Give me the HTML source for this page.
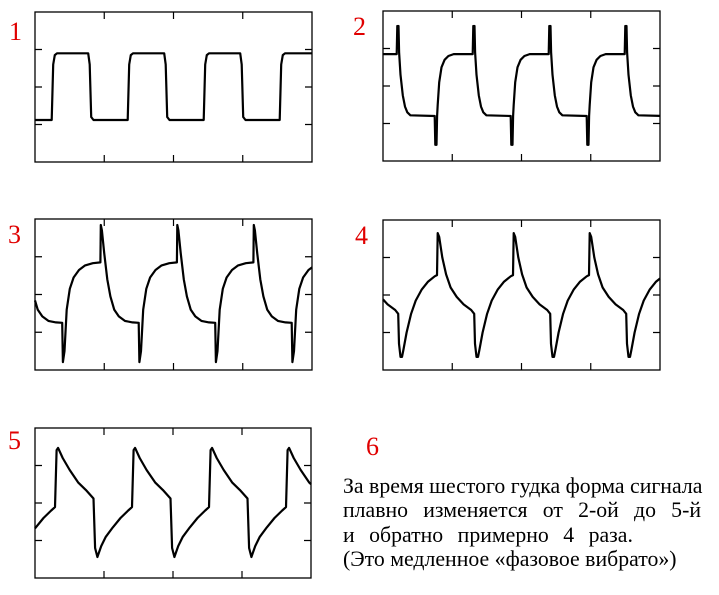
<!DOCTYPE html>
<html><head><meta charset="utf-8"><style>
html,body{margin:0;padding:0;background:#fff;width:719px;height:595px;overflow:hidden}
svg{display:block}
.lbl{font-family:"Liberation Serif",serif;font-size:26px;fill:#e00000}
.txt{position:absolute;left:343px;top:474px;width:358px;font-family:"Liberation Serif","Noto Serif CJK SC",serif;font-size:21.8px;line-height:24.3px;color:#000}
.txt div{text-align:justify;text-align-last:justify;white-space:nowrap}
.txt div.last{text-align-last:left}
</style></head><body>
<svg id="chart" width="719" height="595">
<text class="lbl" x="9" y="40">1</text>
<text class="lbl" x="353" y="35">2</text>
<text class="lbl" x="8" y="243">3</text>
<text class="lbl" x="355" y="244">4</text>
<text class="lbl" x="8" y="449">5</text>
<text class="lbl" x="366" y="455">6</text>
</svg>
<div class="txt">
<div>За время шестого гудка форма сигнала</div>
<div>плавно изменяется от 2-ой до 5-й</div>
<div class="last" style="word-spacing:9px">и обратно  примерно 4 раза.</div>
<div class="last">(Это медленное «фазовое вибрато»)</div>
</div>
<script>
// one-period waveform shapes: phase (0..1) and value (frame units 0..4)
const p1Phase=[0,0.02,0.04,0.07,0.48,0.50,0.52,0.55,1];
const p1Value=[1.12,2.6,2.85,2.9,2.9,2.6,1.2,1.12,1.12];
const p2Phase=[0,0.008,0.016,0.024,0.032,0.05,0.08,0.11,0.14,0.18,0.5,0.508,0.516,0.524,0.532,0.54,0.56,0.59,0.63,0.68,0.75,1];
const p2Value=[2.85,3.6,3.1,3.6,2.9,2.3,1.75,1.45,1.3,1.22,1.2,0.43,1.0,0.43,1.2,1.5,2.1,2.5,2.7,2.8,2.85,2.85];
const p3Phase=[0,0.005,0.02,0.05,0.09,0.13,0.18,0.24,0.32,0.42,0.5,0.51,0.53,0.56,0.6,0.65,0.72,0.8,0.9,1];
const p3Value=[2.85,3.84,3.7,3.1,2.4,1.95,1.6,1.42,1.3,1.26,1.25,0.21,0.5,1.6,2.15,2.45,2.65,2.77,2.83,2.85];
const p4Phase=[0,0.01,0.03,0.07,0.12,0.18,0.26,0.35,0.45,0.49,0.5,0.52,0.54,0.56,0.6,0.66,0.72,0.8,0.88,0.97,1];
const p4Value=[2.53,3.65,3.55,3.0,2.55,2.2,1.95,1.75,1.6,1.5,0.7,0.35,0.35,0.55,1.0,1.5,1.85,2.15,2.35,2.5,2.53];
const p5Phase=[0,0.02,0.04,0.1,0.19,0.3,0.4,0.5,0.52,0.55,0.6,0.66,0.75,0.85,0.95,1];
const p5Value=[1.89,3.41,3.47,3.2,2.88,2.55,2.35,2.12,0.8,0.56,0.85,1.1,1.35,1.6,1.8,1.89];
const panels=[
 {n:1,x0:35,y0:12,x1:312,y1:162,period:76,start:0.78,ph:p1Phase,v:p1Value},
 {n:2,x0:383,y0:11,x1:660,y1:161,period:76,start:0.82,ph:p2Phase,v:p2Value},
 {n:3,x0:35,y0:219,x1:312,y1:370,period:76.5,start:0.145,ph:p3Phase,v:p3Value},
 {n:4,x0:383,y0:220,x1:660,y1:370,period:76,start:0.29,ph:p4Phase,v:p4Value},
 {n:5,x0:35,y0:428,x1:311,y1:578,period:77,start:0.74,ph:p5Phase,v:p5Value}
];
const svg=document.getElementById('chart');
const NS='http://www.w3.org/2000/svg';
function mk(t,a){const e=document.createElementNS(NS,t);for(const k in a)e.setAttribute(k,a[k]);svg.appendChild(e);return e;}
function interp(ph,vals,p){for(let i=1;i<ph.length;i++){if(p<=ph[i]){const f=(p-ph[i-1])/(ph[i]-ph[i-1]||1);return vals[i-1]+f*(vals[i]-vals[i-1]);}}return vals[vals.length-1];}
panels.forEach(P=>{
 const w=P.x1-P.x0,h=P.y1-P.y0;
 const yS=v=>P.y1-v*h/4;
 const tX=t=>P.x0+(t-P.start)*P.period;
 const fr=mk('rect',{x:P.x0,y:P.y0,width:w,height:h,fill:'none',stroke:'#000','stroke-width':1.3});
 
 
 let d='';
 for(let i=1;i<4;i++){const x=P.x0+w*i/4;d+=`M${x},${P.y0}v7M${x},${P.y1}v-7`;const y=yS(i);d+=`M${P.x0},${y}h7M${P.x1},${y}h-7`;}
 const tk=mk('path',{d:d,stroke:'#000','stroke-width':1.2,fill:'none'});
 
 
 const tEnd=P.start+w/P.period;
 let pts=[];
 for(let c=Math.floor(P.start);c<=Math.ceil(tEnd);c++){
  P.ph.forEach((p,i)=>{pts.push([c+p,P.v[i]]);});
 }
 pts=pts.filter(q=>q[0]>=P.start&&q[0]<=tEnd);
 const vs=interp(P.ph,P.v,P.start-Math.floor(P.start));
 const ve=interp(P.ph,P.v,tEnd-Math.floor(tEnd));
 pts.unshift([P.start,vs]);pts.push([tEnd,ve]);
 const line=mk('polyline',{points:pts.map(q=>tX(q[0]).toFixed(1)+','+yS(q[1]).toFixed(1)).join(' '),fill:'none',stroke:'#000','stroke-width':2.2,'stroke-linejoin':'round'});
 
 
});
</script>
</body></html>
